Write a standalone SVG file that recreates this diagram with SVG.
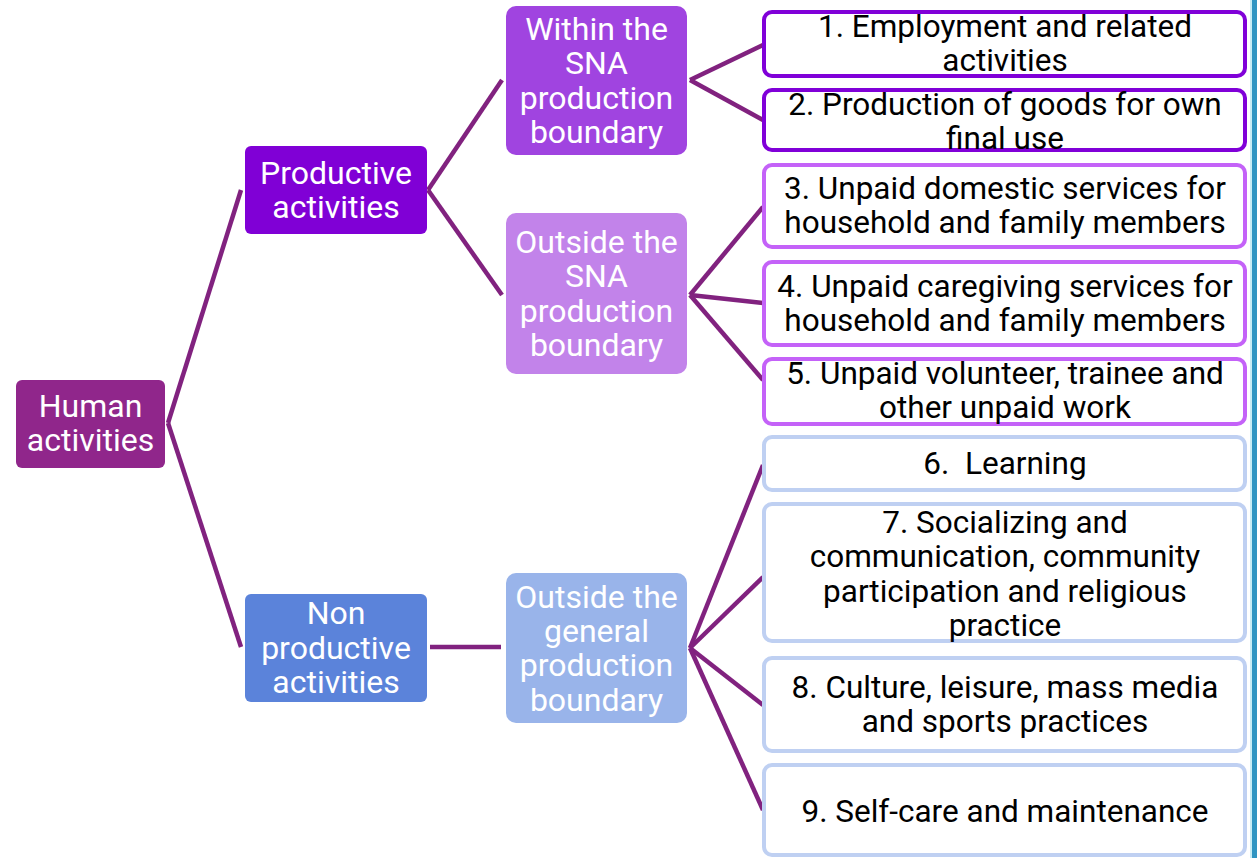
<svg xmlns="http://www.w3.org/2000/svg" width="1258" height="858" viewBox="0 0 1258 858">
<style>
.n text{font-family:Roboto,"Liberation Sans",sans-serif;font-size:32px;fill:#fff;text-anchor:middle}
.b text{font-family:Roboto,"Liberation Sans",sans-serif;font-size:31.5px;fill:#000;text-anchor:middle}
.b rect{fill:#fff;stroke-width:4}
.b1 rect{stroke:#8000D8}
.b2 rect{stroke:#C462F8}
.b3 rect{stroke:#BFD0F2}
#connectors line{stroke:#81227F;stroke-width:4.5;stroke-linecap:butt}
</style>
<rect width="1258" height="858" fill="#fff"/>
<rect x="1250" y="0" width="2" height="858" fill="#C8ECF4"/>
<rect x="1252" y="0" width="5" height="858" fill="#3095C2"/>
<g id="connectors">
<line x1="168" y1="423" x2="241" y2="190"/>
<line x1="168" y1="423" x2="241" y2="647"/>
<line x1="428" y1="190" x2="502" y2="80"/>
<line x1="428" y1="190" x2="502" y2="295"/>
<line x1="430" y1="647" x2="501" y2="647"/>
<line x1="690" y1="80" x2="763" y2="45"/>
<line x1="690" y1="80" x2="763" y2="120"/>
<line x1="690" y1="295" x2="763" y2="207"/>
<line x1="690" y1="295" x2="763" y2="303"/>
<line x1="690" y1="295" x2="763" y2="380"/>
<line x1="690" y1="648" x2="763" y2="465"/>
<line x1="690" y1="648" x2="763" y2="577"/>
<line x1="690" y1="648" x2="763" y2="705"/>
<line x1="690" y1="648" x2="763" y2="810"/>
</g>
<g id="n-human" class="n"><rect x="16" y="380" width="149" height="88" rx="6" fill="#90268B"/><text x="90.5" y="416.5">Human</text><text x="90.5" y="451">activities</text></g>
<g id="n-productive" class="n"><rect x="245" y="146" width="182" height="88" rx="6" fill="#8000D6"/><text x="336" y="183.5">Productive</text><text x="336" y="217.5">activities</text></g>
<g id="n-nonproductive" class="n"><rect x="245" y="594" width="182" height="108" rx="6" fill="#5B83DA"/><text x="336" y="623.5">Non</text><text x="336" y="658.5">productive</text><text x="336" y="692.5">activities</text></g>
<g id="n-within" class="n"><rect x="506" y="6" width="181" height="149" rx="10" fill="#A044E0"/><text x="596.5" y="39.5">Within the</text><text x="596.5" y="73.5">SNA</text><text x="596.5" y="108.5">production</text><text x="596.5" y="142.5">boundary</text></g>
<g id="n-outside-sna" class="n"><rect x="506" y="213" width="181" height="161" rx="10" fill="#C283EA"/><text x="596.5" y="252.5">Outside the</text><text x="596.5" y="286.5">SNA</text><text x="596.5" y="321.5">production</text><text x="596.5" y="355.5">boundary</text></g>
<g id="n-outside-general" class="n"><rect x="506" y="573" width="181" height="150" rx="10" fill="#99B4EA"/><text x="596.5" y="607.5">Outside the</text><text x="596.5" y="641.5">general</text><text x="596.5" y="675.5">production</text><text x="596.5" y="710.5">boundary</text></g>
<g id="b1" class="b b1"><rect x="764" y="12" width="481" height="64" rx="8"/><text x="1005" y="36.5">1. Employment and related</text><text x="1005" y="71">activities</text></g>
<g id="b2" class="b b1"><rect x="764" y="90" width="481" height="60" rx="8"/><text x="1005" y="114.5">2. Production of goods for own</text><text x="1005" y="148.5">final use</text></g>
<g id="b3" class="b b2"><rect x="764" y="165" width="481" height="82" rx="8"/><text x="1005" y="198.5">3. Unpaid domestic services for</text><text x="1005" y="232.5">household and family members</text></g>
<g id="b4" class="b b2"><rect x="764" y="262" width="481" height="83" rx="8"/><text x="1005" y="296.5">4. Unpaid caregiving services for</text><text x="1005" y="330.5">household and family members</text></g>
<g id="b5" class="b b2"><rect x="764" y="359" width="481" height="65" rx="8"/><text x="1005" y="383.5">5. Unpaid volunteer, trainee and</text><text x="1005" y="417.5">other unpaid work</text></g>
<g id="b6" class="b b3"><rect x="764" y="437" width="481" height="53" rx="8"/><text x="1005" y="473.5" style="white-space:pre">6.  Learning</text></g>
<g id="b7" class="b b3"><rect x="764" y="504" width="481" height="137" rx="8"/><text x="1005" y="532.5">7. Socializing and</text><text x="1005" y="566.5">communication, community</text><text x="1005" y="601.5">participation and religious</text><text x="1005" y="635.5">practice</text></g>
<g id="b8" class="b b3"><rect x="764" y="658" width="481" height="93" rx="8"/><text x="1005" y="697.5">8. Culture, leisure, mass media</text><text x="1005" y="731.5">and sports practices</text></g>
<g id="b9" class="b b3"><rect x="764" y="765" width="481" height="90" rx="8"/><text x="1005" y="821.5">9. Self-care and maintenance</text></g>
</svg>
